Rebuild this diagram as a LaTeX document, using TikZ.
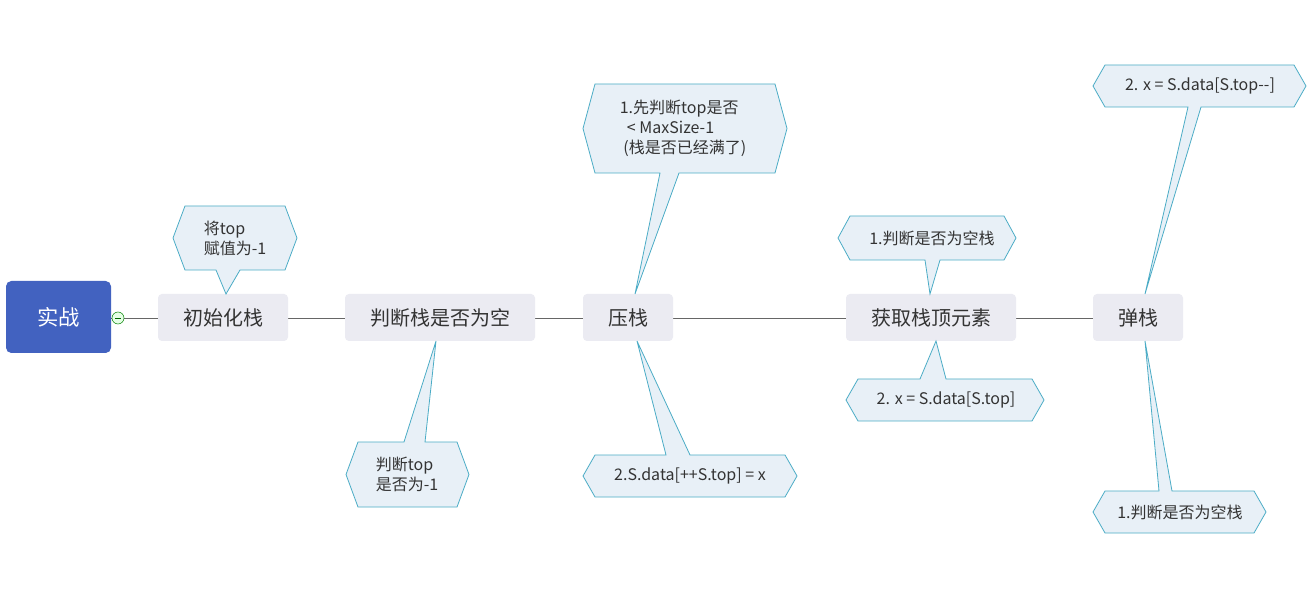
\documentclass[tikz,border=0pt]{standalone}
\usepackage{fontspec}
\setmainfont{Noto Sans CJK SC}
\definecolor{rootc}{HTML}{4262C0}
\definecolor{boxc}{HTML}{EBEBF2}
\definecolor{cof}{HTML}{E8F0F7}
\definecolor{cod}{HTML}{4BACC6}
\definecolor{txt}{HTML}{333333}
\tikzset{mainbox/.style={fill=boxc,rounded corners=3pt,text=txt,font=\fontsize{15}{18}\selectfont},
 cotext/.style={text=txt,font=\fontsize{12}{15}\selectfont,align=left},
 costyle/.style={fill=cof,draw=cod,line width=0.6pt}}
% bottom pointer callout
\newcommand\cobot[8]{\path[costyle] (#1+12,#2)--(#3-12,#2)--(#3,{(#2+#4)/2})--(#3-12,#4)--(#6,#4)--(#7,#8)--(#5,#4)--(#1+12,#4)--(#1,{(#2+#4)/2})--cycle;}
% top pointer callout
\newcommand\cotop[8]{\path[costyle] (#1+12,#2)--(#5,#2)--(#7,#8)--(#6,#2)--(#3-12,#2)--(#3,{(#2+#4)/2})--(#3-12,#4)--(#1+12,#4)--(#1,{(#2+#4)/2})--cycle;}
\begin{document}
\begin{tikzpicture}[x=0.75pt,y=-0.75pt]
\useasboundingbox[fill=white] (0,0) rectangle (1311,595);
\draw[gray!80!black,line width=0.6pt] (111,318)--(1093,318);
\node[fill=rootc,rounded corners=4pt,text=white,minimum width=105*0.75pt,minimum height=72*0.75pt,font=\fontsize{16}{19}\selectfont] (root) at (58.5,317) {实战};
\node[draw=green!50!black,fill=green!10,circle,inner sep=0pt,minimum size=9pt] (tog) at (118,318) {};
\draw[green!40!black,line width=0.6pt] (115,318)--(121,318);
\node[mainbox,minimum width=130*0.75pt,minimum height=47*0.75pt] (b1) at (223,317.5) {初始化栈};
\node[mainbox,minimum width=190*0.75pt,minimum height=47*0.75pt] (b2) at (440,317.5) {判断栈是否为空};
\node[mainbox,minimum width=90*0.75pt,minimum height=47*0.75pt] (b3) at (628,317.5) {压栈};
\node[mainbox,minimum width=170*0.75pt,minimum height=47*0.75pt] (b4) at (931,317.5) {获取栈顶元素};
\node[mainbox,minimum width=90*0.75pt,minimum height=47*0.75pt] (b5) at (1138,317.5) {弹栈};
\cobot{173}{206}{297}{270}{216}{240}{226}{294}
\node[cotext] (c1) at (235,238) {将top\\赋值为-1};
\cotop{346}{442}{469}{507}{404}{425}{436}{341}
\node[cotext] (c2) at (407,474) {判断top\\是否为-1};
\cobot{583}{84}{787}{173}{660}{679}{635}{294}
\node[cotext] (c3) at (683,128) {1.先判断top是否\\\ \ < MaxSize-1\\\ (栈是否已经满了)};
\cotop{583}{455}{797}{497}{666}{690}{637}{341}
\node[cotext] (c4) at (690,476) {2.S.data[++S.top] = x};
\cobot{838}{216}{1016}{260}{925}{940}{930}{294}
\node[cotext] (c5) at (932,238) {1.判断是否为空栈};
\cotop{846}{379}{1044}{421}{920}{946}{936}{341}
\node[cotext] (c6) at (946,400) {2. x = S.data[S.top]};
\cobot{1093}{65}{1306}{107}{1188}{1201}{1145}{294}
\node[cotext] (c7) at (1200,86) {2. x = S.data[S.top-{}-]};
\cotop{1093}{491}{1266}{533}{1159}{1172}{1145}{341}
\node[cotext] (c8) at (1180,512) {1.判断是否为空栈};
\end{tikzpicture}
\end{document}
